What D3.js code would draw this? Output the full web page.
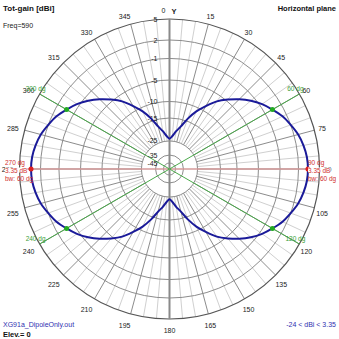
<!DOCTYPE html>
<html><head><meta charset="utf-8">
<script src="https://cdn.jsdelivr.net/npm/d3@7"></script>
<style>
html,body{margin:0;padding:0;background:#fff;}
svg{display:block;font-family:"Liberation Sans",Arial,sans-serif;}
</style></head>
<body><svg id="c" width="339" height="339"></svg>
<script>
// ---- data ----
const ringValues = [5, 2, -1, -5, -10, -15, -25, -35, -45];
const ringLabels = ["5", "2", "-1", "-5", "-10", "-15", "-25", "-35", "-45"];
const angleLabels = [15,30,45,60,75,90,105,120,135,150,165,180,195,210,225,240,255,270,285,300,315,330,345];
const patternAngles = [0,5,10,15,20,25,30,35,40,45,50,55,60,65,70,75,80,85,90,95,100,105,110,115,120,125,130,135,140,145,150,155,160,165,170,175,180,185,190,195,200,205,210,215,220,225,230,235,240,245,250,255,260,265,270,275,280,285,290,295,300,305,310,315,320,325,330,335,340,345,350,355,360];
const patternGain = [-24,-22.8,-20.5,-18,-14.2,-11.2,-8.8,-6.5,-4.7,-3.2,-1.8,-0.6,0.35,1.3,2.0,2.6,3.0,3.27,3.35,3.27,3.0,2.6,2.0,1.3,0.35,-0.6,-1.8,-3.2,-4.7,-6.5,-8.8,-11.2,-14.2,-18,-20.5,-22.8,-24,-22.8,-20.5,-18,-14.2,-11.2,-8.8,-6.5,-4.7,-3.2,-1.8,-0.6,0.35,1.3,2.0,2.6,3.0,3.27,3.35,3.27,3.0,2.6,2.0,1.3,0.35,-0.6,-1.8,-3.2,-4.7,-6.5,-8.8,-11.2,-14.2,-18,-20.5,-22.8,-24];
const bwAngles = [60, 120, 240, 300];
const bwGain = 0.35;
const maxAngles = [90, 270];
const maxGain = 3.35;
const beamwidth = 60;
const minGain = -24;
const title = "Tot-gain [dBi]";
const planeTitle = "Horizontal plane";
const freqText = "Freq=590";
const fileText = "XG91a_DipoleOnly.out";
const elevText = "Elev.= 0";

// ---- layout ----
const svg = d3.select("#c");
const cx = 169.5, cy = 169, R = 150;
const r = d3.scaleLinear()
  .domain(ringValues)
  .range([1, 0.86, 0.737, 0.593, 0.45, 0.34, 0.187, 0.093, 0.04].map(f => f * R))
  .clamp(true);
const rad = d => d * Math.PI / 180;
const px = (a, rr) => cx + rr * Math.sin(rad(a));
const py = (a, rr) => cy - rr * Math.cos(rad(a));
const g = svg.append("g");
const FS = 7;

// radial grid lines
const spokes = d3.range(0, 360, 5);
g.selectAll("line.spoke").data(spokes).enter().append("line")
  .attr("x1", a => px(a, r(-25))).attr("y1", a => py(a, r(-25)))
  .attr("x2", a => px(a, R)).attr("y2", a => py(a, R))
  .attr("stroke", a => a % 15 === 0 ? "#8c8c8c" : "#d0d0d0")
  .attr("stroke-width", 1);

// rings
g.selectAll("circle.ring").data(ringValues).enter().append("circle")
  .attr("cx", cx).attr("cy", cy).attr("r", d => r(d))
  .attr("fill", "none")
  .attr("stroke", (d, i) => i === 0 ? "#555" : "#8c8c8c")
  .attr("stroke-width", (d, i) => i === 0 ? 1.2 : 1);

// Y axis
g.append("line").attr("x1", cx).attr("x2", cx).attr("y1", cy - R).attr("y2", cy + R)
  .attr("stroke", "#8a8a8a").attr("stroke-width", 2);
// red max line
g.append("line").attr("x1", cx - R).attr("x2", cx + R).attr("y1", cy).attr("y2", cy)
  .attr("stroke", "#d49a9a").attr("stroke-width", 1.5);
// green bw lines
g.selectAll("line.bw").data(bwAngles).enter().append("line")
  .attr("x1", cx).attr("y1", cy)
  .attr("x2", a => px(a, R)).attr("y2", a => py(a, R))
  .attr("stroke", "#4aaa4a").attr("stroke-width", 1);

// ring labels
g.selectAll("text.rl").data(ringValues).enter().append("text")
  .attr("x", cx - 12).attr("y", d => cy - r(d))
  .attr("text-anchor", "end").attr("dominant-baseline", "central")
  .attr("font-size", FS).attr("fill", "#222")
  .text((d, i) => ringLabels[i]);

// angle labels
const LR = 158;
g.selectAll("text.al").data(angleLabels).enter().append("text")
  .attr("x", a => px(a, LR) + (Math.sin(rad(a)) < -0.01 ? -4 : 0))
  .attr("y", a => py(a, LR) + (Math.cos(rad(a)) < -0.01 ? 3.5 : 0))
  .attr("text-anchor", "middle").attr("dominant-baseline", "central")
  .attr("font-size", FS).attr("fill", "#222")
  .text(a => a);
g.append("text").attr("x", cx - 4).attr("y", py(0, LR) - 0.5)
  .attr("text-anchor", "end").attr("dominant-baseline", "central")
  .attr("font-size", FS).attr("fill", "#222").text("0");
g.append("text").attr("x", cx + 2).attr("y", py(0, LR))
  .attr("text-anchor", "start").attr("dominant-baseline", "central")
  .attr("font-size", 7.5).attr("font-weight", "bold").attr("fill", "#222").text("Y");

// pattern
const pts = patternAngles.map((a, i) => [rad(a), r(patternGain[i])]);
const line = d3.lineRadial().angle(d => d[0]).radius(d => d[1]).curve(d3.curveCardinalClosed.tension(0.2));
g.append("path").attr("transform", `translate(${cx},${cy})`)
  .attr("d", line(pts.slice(0, -1)))
  .attr("fill", "none").attr("stroke", "#1a1a99").attr("stroke-width", 2);

// bw dots
g.selectAll("circle.bwd").data(bwAngles).enter().append("circle")
  .attr("cx", a => px(a, r(bwGain))).attr("cy", a => py(a, r(bwGain)))
  .attr("r", 2.5).attr("fill", "#22aa22");
// max dots
g.selectAll("circle.mxd").data(maxAngles).enter().append("circle")
  .attr("cx", a => px(a, r(maxGain))).attr("cy", a => py(a, r(maxGain)))
  .attr("r", 2.5).attr("fill", "#dd2222");

// bw labels
g.selectAll("text.bwl").data(bwAngles).enter().append("text")
  .attr("x", a => px(a, R) - 4)
  .attr("y", a => py(a, R) - 6)
  .attr("text-anchor", "middle").attr("dominant-baseline", "central")
  .attr("font-size", 6.5).attr("fill", "#3aa03a")
  .text(a => a + " dg");

// max labels (with white background)
maxAngles.forEach(a => {
  const right = Math.sin(rad(a)) > 0;
  const x0 = right ? 308 : 5;
  const lines = [a + " dg", maxGain + " dB", "bw: " + beamwidth + " dg"];
  lines.forEach((t, i) => {
    const yy = cy - 7 + i * 8;
    const tx = g.append("text").attr("x", x0).attr("y", yy)
      .attr("dominant-baseline", "central")
      .attr("font-size", 6.5).attr("fill", "#d03030").text(t);
    if (i === 1) {
      const bb = tx.node().getBBox();
      g.insert("rect", () => tx.node()).attr("x", bb.x).attr("y", bb.y + 1).attr("width", bb.width).attr("height", bb.height - 2).attr("fill", "#fff");
    }
  });
});

// titles
svg.append("text").attr("x", 3).attr("y", 8).attr("dominant-baseline", "central")
  .attr("font-size", 8).attr("font-weight", "bold").attr("fill", "#111").text(title);
svg.append("text").attr("x", 336).attr("y", 8).attr("text-anchor", "end").attr("dominant-baseline", "central")
  .attr("font-size", 7.5).attr("font-weight", "bold").attr("fill", "#111").text(planeTitle);
svg.append("text").attr("x", 3).attr("y", 25).attr("dominant-baseline", "central")
  .attr("font-size", FS).attr("fill", "#222").text(freqText);
svg.append("text").attr("x", 3).attr("y", 324).attr("dominant-baseline", "central")
  .attr("font-size", 7).attr("fill", "#3030b0").text(fileText);
svg.append("text").attr("x", 3).attr("y", 334).attr("dominant-baseline", "central")
  .attr("font-size", 7.5).attr("font-weight", "bold").attr("fill", "#111").text(elevText);
svg.append("text").attr("x", 336).attr("y", 324).attr("text-anchor", "end").attr("dominant-baseline", "central")
  .attr("font-size", 7).attr("fill", "#3030b0").text(minGain + " < dBi < " + maxGain);
</script></body></html>
